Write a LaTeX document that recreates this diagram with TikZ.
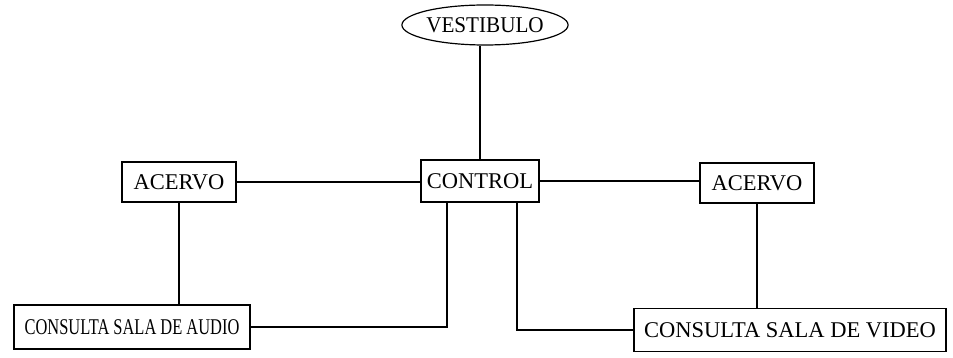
\documentclass[tikz,border=0pt]{standalone}
\usepackage{fontspec}
\setmainfont{Liberation Serif}
\usetikzlibrary{shapes.geometric}
\begin{document}
\begin{tikzpicture}[x=1pt,y=-1pt,
  every node/.style={font=\fontsize{22.5}{24}\selectfont, inner sep=0pt, align=center},
  box/.style={draw, line width=1.2pt, rectangle},
  oval/.style={draw, line width=1.2pt, ellipse},
  conn/.style={line width=1.2pt}]
\useasboundingbox (0,0) rectangle (953,358);
\node[oval, minimum width=152, minimum height=40] (vest) at (485,25) {\scalebox{0.94}[1]{VESTIBULO}};
\node[box, minimum width=118, minimum height=42] (ctrl) at (480,181) {CONTROL};
\node[box, minimum width=114, minimum height=40] (acl) at (179,182) {ACERVO};
\node[box, minimum width=114, minimum height=40] (acr) at (757,183) {ACERVO};
\node[box, minimum width=236, minimum height=44] (audio) at (132,327) {\scalebox{0.73}[1]{CONSULTA SALA DE AUDIO}};
\node[box, minimum width=312, minimum height=43] (video) at (790,330) {CONSULTA SALA DE VIDEO};
\coordinate (cl) at (447,0);
\coordinate (cr) at (517,0);
\draw[conn] (ctrl.north) -- (ctrl.north |- vest.south);
\draw[conn] (acl.east) -- (acl.east -| ctrl.west);
\draw[conn] (ctrl.east) -- (ctrl.east -| acr.west);
\draw[conn] (acl.south) -- (acl.south |- audio.north);
\draw[conn] (acr.south) -- (acr.south |- video.north);
\draw[conn] (ctrl.south -| cl) |- (audio.east);
\draw[conn] (ctrl.south -| cr) |- (video.west);
\end{tikzpicture}
\end{document}
